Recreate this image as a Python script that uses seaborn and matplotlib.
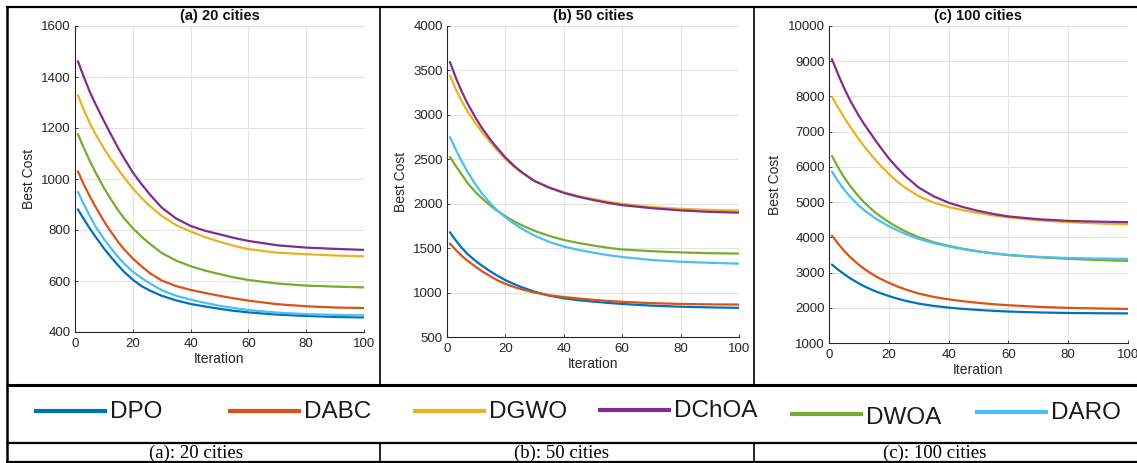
import matplotlib
matplotlib.use("Agg")
import matplotlib.pyplot as plt
from matplotlib.lines import Line2D
import numpy as np
import pandas as pd
import seaborn as sns

# ---------------------------------------------------------------- data
iterations = [1, 3, 5, 7, 10, 12, 15, 17, 20, 23, 26, 30, 35, 40, 45, 50, 55, 60, 70, 80, 90, 100]
algorithms = ["DPO", "DABC", "DGWO", "DChOA", "DWOA", "DARO"]
colors = ["#0072BD", "#D95319", "#EDB120", "#7E2F8E", "#77AC30", "#4DBEEE"]

# (a) 20 cities
c20_dpo = [881, 844, 808, 775, 728, 700, 660, 636, 605, 580, 562, 542, 524, 510, 500, 491, 483, 477, 468, 463, 459, 457]
c20_dabc = [1030, 980, 935, 893, 835, 800, 752, 724, 688, 658, 630, 602, 580, 565, 553, 542, 532, 523, 509, 501, 496, 494]
c20_dgwo = [1329, 1272, 1222, 1178, 1120, 1085, 1037, 1006, 963, 926, 893, 855, 819, 794, 772, 754, 738, 725, 711, 705, 700, 697]
c20_dchoa = [1462, 1402, 1345, 1296, 1228, 1184, 1120, 1081, 1026, 980, 938, 888, 845, 816, 797, 783, 769, 757, 740, 731, 726, 722]
c20_dwoa = [1176, 1123, 1074, 1028, 965, 928, 876, 846, 807, 774, 745, 710, 680, 658, 641, 627, 614, 604, 590, 582, 578, 575]
c20_daro = [950, 902, 858, 816, 765, 735, 693, 668, 637, 612, 590, 564, 542, 527, 514, 503, 494, 486, 476, 470, 467, 465]

# (b) 50 cities
c50_dpo = [1679, 1588, 1505, 1435, 1350, 1302, 1235, 1195, 1140, 1095, 1055, 1010, 965, 935, 914, 898, 884, 872, 853, 841, 833, 828]
c50_dabc = [1551, 1480, 1415, 1360, 1285, 1240, 1180, 1143, 1098, 1062, 1033, 1000, 970, 950, 933, 919, 906, 896, 881, 872, 867, 865]
c50_dgwo = [3445, 3290, 3155, 3040, 2895, 2805, 2685, 2610, 2505, 2415, 2340, 2255, 2185, 2128, 2085, 2052, 2023, 1999, 1963, 1943, 1930, 1923]
c50_dchoa = [3595, 3420, 3265, 3130, 2955, 2850, 2715, 2635, 2520, 2425, 2345, 2255, 2180, 2122, 2078, 2042, 2010, 1984, 1950, 1925, 1908, 1900]
c50_dwoa = [2526, 2425, 2330, 2235, 2122, 2060, 1975, 1925, 1860, 1800, 1752, 1695, 1638, 1592, 1558, 1530, 1505, 1485, 1466, 1452, 1443, 1439]
c50_daro = [2751, 2610, 2480, 2360, 2205, 2115, 2000, 1930, 1848, 1775, 1712, 1640, 1570, 1518, 1480, 1450, 1422, 1400, 1367, 1347, 1335, 1326]

# (c) 100 cities
c100_dpo = [3226, 3086, 2958, 2842, 2689, 2601, 2487, 2421, 2334, 2256, 2190, 2118, 2053, 2005, 1968, 1938, 1913, 1893, 1868, 1852, 1845, 1840]
c100_dabc = [4047, 3823, 3623, 3447, 3219, 3091, 2926, 2832, 2709, 2601, 2508, 2404, 2309, 2239, 2184, 2139, 2102, 2072, 2027, 1997, 1980, 1968]
c100_dgwo = [7991, 7691, 7411, 7147, 6781, 6557, 6248, 6060, 5796, 5570, 5380, 5170, 4985, 4860, 4765, 4688, 4622, 4565, 4482, 4430, 4395, 4370]
c100_dchoa = [9057, 8637, 8247, 7897, 7447, 7183, 6817, 6581, 6242, 5957, 5702, 5414, 5164, 4984, 4854, 4749, 4664, 4594, 4514, 4467, 4445, 4430]
c100_dwoa = [6311, 5991, 5711, 5467, 5152, 4972, 4738, 4606, 4432, 4282, 4150, 4002, 3862, 3757, 3672, 3602, 3542, 3495, 3435, 3390, 3355, 3330]
c100_daro = [5868, 5598, 5362, 5158, 4900, 4756, 4570, 4462, 4318, 4192, 4081, 3957, 3837, 3742, 3662, 3597, 3545, 3502, 3447, 3412, 3397, 3389]

titles = ["(a) 20 cities", "(b) 50 cities", "(c) 100 cities"]
captions = ["(a): 20 cities", "(b): 50 cities", "(c): 100 cities"]
y_ranges = [(400, 1600, 200), (500, 4000, 500), (1000, 10000, 1000)]
x_ticks = [0, 20, 40, 60, 80, 100]

panel_series = [
    [c20_dpo, c20_dabc, c20_dgwo, c20_dchoa, c20_dwoa, c20_daro],
    [c50_dpo, c50_dabc, c50_dgwo, c50_dchoa, c50_dwoa, c50_daro],
    [c100_dpo, c100_dabc, c100_dgwo, c100_dchoa, c100_dwoa, c100_daro],
]


def to_frame(series):
    rows = []
    for name, values in zip(algorithms, series):
        for it, v in zip(iterations, values):
            rows.append({"Iteration": it, "Best Cost": v, "Algorithm": name})
    return pd.DataFrame(rows)


# ---------------------------------------------------------------- style
sns.set_theme(style="whitegrid")
plt.rcParams["font.family"] = ["Liberation Sans", "DejaVu Sans"]
plt.rcParams["axes.edgecolor"] = "#262626"
plt.rcParams["grid.color"] = "#e2e2e2"
plt.rcParams["grid.linewidth"] = 0.7
plt.rcParams["lines.solid_joinstyle"] = "round"

W, H = 1137, 463
fig = plt.figure(figsize=(W / 100, H / 100), dpi=100)
fig.patch.set_facecolor("white")


def fx(x):
    return x / W


def fy(y):
    return 1 - y / H


# axes boxes in pixel units: left, top, right, bottom
boxes = [(75, 26, 364, 332), (447, 26, 739, 337), (829, 26, 1128, 343)]
palette = dict(zip(algorithms, colors))

for box, series, title, (y0, y1, ystep) in zip(boxes, panel_series, titles, y_ranges):
    l, t, r, b = box
    ax = fig.add_axes([fx(l), fy(b), (r - l) / W, (b - t) / H])
    df = to_frame(series)
    sns.lineplot(data=df, x="Iteration", y="Best Cost", hue="Algorithm",
                 palette=palette, hue_order=algorithms, linewidth=1.6,
                 legend=False, ax=ax)
    ax.set_xlim(0, 100)
    ax.set_ylim(y0, y1)
    ax.set_xticks(x_ticks)
    ax.set_yticks(np.arange(y0, y1 + 1, ystep))
    ax.set_facecolor("white")
    for side in ("top", "right"):
        ax.spines[side].set_visible(False)
    for side in ("left", "bottom"):
        ax.spines[side].set_visible(True)
        ax.spines[side].set_color("#262626")
        ax.spines[side].set_linewidth(0.8)
    ax.tick_params(axis="both", direction="in", length=2.5, width=0.6,
                   colors="#262626", labelsize=9.5, labelcolor="#262626",
                   bottom=True, left=True)
    ax.tick_params(axis="x", pad=4.5)
    ax.tick_params(axis="y", pad=3)
    ax.grid(True, color="#e2e2e2", linewidth=0.7)
    ax.set_xlabel("Iteration", fontsize=10, color="#262626", labelpad=1.5)
    ax.set_ylabel("Best Cost", fontsize=10, color="#262626", labelpad=4)
    ax.set_title(title, fontsize=10.5, fontweight="bold", color="#111111", pad=4)

# ---------------------------------------------------------------- table frame
def hline(y, x0, x1, lw):
    fig.add_artist(Line2D([fx(x0), fx(x1)], [fy(y), fy(y)], transform=fig.transFigure,
                          color="black", linewidth=lw, solid_capstyle="butt"))


def vline(x, y0, y1, lw):
    fig.add_artist(Line2D([fx(x), fx(x)], [fy(y0), fy(y1)], transform=fig.transFigure,
                          color="black", linewidth=lw, solid_capstyle="butt"))


hline(7, 6, W, 1.6)
hline(385, 6, W, 2.2)
hline(443, 6, W, 1.6)
hline(461.5, 6, W, 1.6)
vline(7, 6, 462, 1.8)
for xd in (380, 754):
    vline(xd, 7, 385, 1.2)
    vline(xd, 443, 462, 1.2)

# ---------------------------------------------------------------- legend row
legend_x = [34, 228, 413, 598, 790, 975]
legend_dy = [0, 0, 0, -1, 3, 1]
line_len = 73
for name, col, x0, dy in zip(algorithms, colors, legend_x, legend_dy):
    y = 411 + dy
    fig.add_artist(Line2D([fx(x0), fx(x0 + line_len)], [fy(y), fy(y)],
                          transform=fig.transFigure, color=col, linewidth=3.0,
                          solid_capstyle="butt"))
    fig.text(fx(x0 + line_len + 3), fy(y + (4 if name == "DWOA" else 1)), name,
             fontsize=17.5, color="#1a1a1a", ha="left", va="center",
             family=["Liberation Sans", "DejaVu Sans"])

# ---------------------------------------------------------------- caption row
for cap, xc in zip(captions, (196, 562, 935)):
    fig.text(fx(xc), fy(453), cap, fontsize=13.5, color="black", ha="center",
             va="center", family=["Liberation Serif", "DejaVu Serif"])

fig.savefig("out.png", dpi=100, facecolor="white")
